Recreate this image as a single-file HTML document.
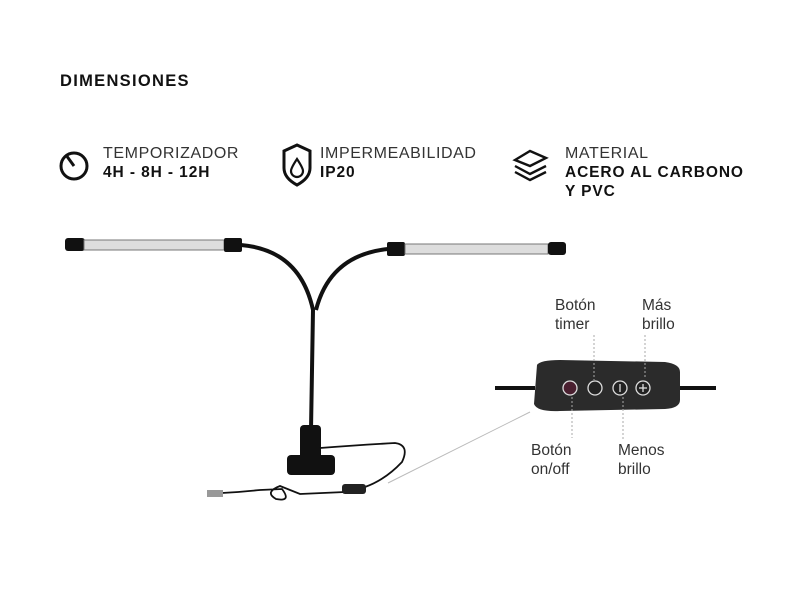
<!DOCTYPE html>
<html><head><meta charset="utf-8"><style>
body{margin:0;width:800px;height:589px;background:#fff;position:relative;overflow:hidden;font-family:"Liberation Sans",sans-serif;color:#111}
.t{position:absolute;white-space:nowrap}
.h{font-weight:bold;font-size:16.5px;letter-spacing:1.3px}
.l{font-size:16px;color:#333;letter-spacing:0.6px}
.b{font-size:15.5px;font-weight:bold;letter-spacing:0.9px}
.c{font-size:15.5px;color:#333;line-height:19px;text-align:left}
</style></head><body>
<div class="t h" style="left:60px;top:72px">DIMENSIONES</div>
<div class="t l" style="left:103px;top:145px">TEMPORIZADOR</div>
<div class="t b" style="left:103px;top:164px">4H - 8H - 12H</div>
<div class="t l" style="left:320px;top:145px">IMPERMEABILIDAD</div>
<div class="t b" style="left:320px;top:164px">IP20</div>
<div class="t l" style="left:565px;top:145px">MATERIAL</div>
<div class="t b" style="left:565px;top:164px">ACERO AL CARBONO</div>
<div class="t b" style="left:565px;top:183px">Y PVC</div>
<div class="t c" style="left:555px;top:296px">Botón<br>timer</div>
<div class="t c" style="left:642px;top:296px">Más<br>brillo</div>
<div class="t c" style="left:531px;top:441px">Botón<br>on/off</div>
<div class="t c" style="left:618px;top:441px">Menos<br>brillo</div>
<svg width="800" height="589" style="position:absolute;left:0;top:0">
<g fill="none" stroke="#111" stroke-width="3">
<circle cx="74" cy="166" r="13"/><line x1="74" y1="166" x2="66" y2="155"/>
<path d="M297 145 L310 151 L310 168 Q310 178 297 185 Q284 178 284 168 L284 151 Z"/>
<path d="M297 159 Q291 168 291 171 A6 6 0 0 0 303 171 Q303 168 297 159Z" stroke-width="2.2"/>
<path d="M515 160 L530 151 L546 158 L530 166 Z" stroke-width="2.4"/>
<path d="M515 166 L530 174 L546 166 M515 172 L530 180 L546 172" stroke-width="2.4"/>
</g>
<rect x="65" y="238" width="20" height="13" rx="3" fill="#111"/>
<rect x="84" y="240" width="140" height="10" fill="#ddd" stroke="#777"/>
<rect x="224" y="238" width="18" height="14" rx="2" fill="#111"/>
<rect x="387" y="242" width="18" height="14" rx="2" fill="#111"/>
<rect x="405" y="244" width="143" height="10" fill="#ddd" stroke="#777"/>
<rect x="548" y="242" width="18" height="13" rx="3" fill="#111"/>
<g fill="none" stroke="#111" stroke-width="4">
<path d="M241 245 Q300 250 313 310 L311 430"/>
<path d="M388 249 Q330 255 316 310"/>
</g>
<rect x="300" y="425" width="21" height="35" rx="4" fill="#111"/>
<rect x="287" y="455" width="48" height="20" rx="4" fill="#111"/>
<g fill="none" stroke="#111" stroke-width="1.8">
<path d="M320 448 Q360 445 395 443 Q410 445 402 462 Q385 480 365 487"/>
<path d="M345 492 L300 494 Q290 490 280 486 Q264 492 276 499 Q292 502 282 489 L260 490 Q240 492 222 493"/>
</g>
<rect x="342" y="484" width="24" height="10" rx="3" fill="#222"/>
<rect x="207" y="490" width="16" height="7" fill="#999"/>
<line x1="388" y1="483" x2="530" y2="412" stroke="#bbb" stroke-width="1"/>
<line x1="495" y1="388" x2="535" y2="388" stroke="#111" stroke-width="4"/>
<line x1="675" y1="388" x2="716" y2="388" stroke="#111" stroke-width="4"/>
<path d="M537 365 Q540 360 560 360 L665 362 Q680 364 680 372 L680 400 Q680 408 665 409 L560 411 Q537 412 534 404 Z" fill="#2b2b2b"/>
<g stroke="#ddd" stroke-width="1.3" fill="#222">
<circle cx="570" cy="388" r="7" fill="#4a2030"/>
<circle cx="595" cy="388" r="7"/><circle cx="620" cy="388" r="7"/><circle cx="643" cy="388" r="7"/>
</g>
<g stroke="#ddd" stroke-width="1.3"><line x1="620" y1="384" x2="620" y2="392"/><line x1="639" y1="388" x2="647" y2="388"/><line x1="643" y1="384" x2="643" y2="392"/></g>
<g stroke="#aaa" stroke-width="1" stroke-dasharray="2,2">
<line x1="594" y1="335" x2="594" y2="380"/><line x1="645" y1="335" x2="645" y2="378"/>
<line x1="572" y1="397" x2="572" y2="438"/><line x1="623" y1="397" x2="623" y2="440"/>
</g>
</svg>
</body></html>
